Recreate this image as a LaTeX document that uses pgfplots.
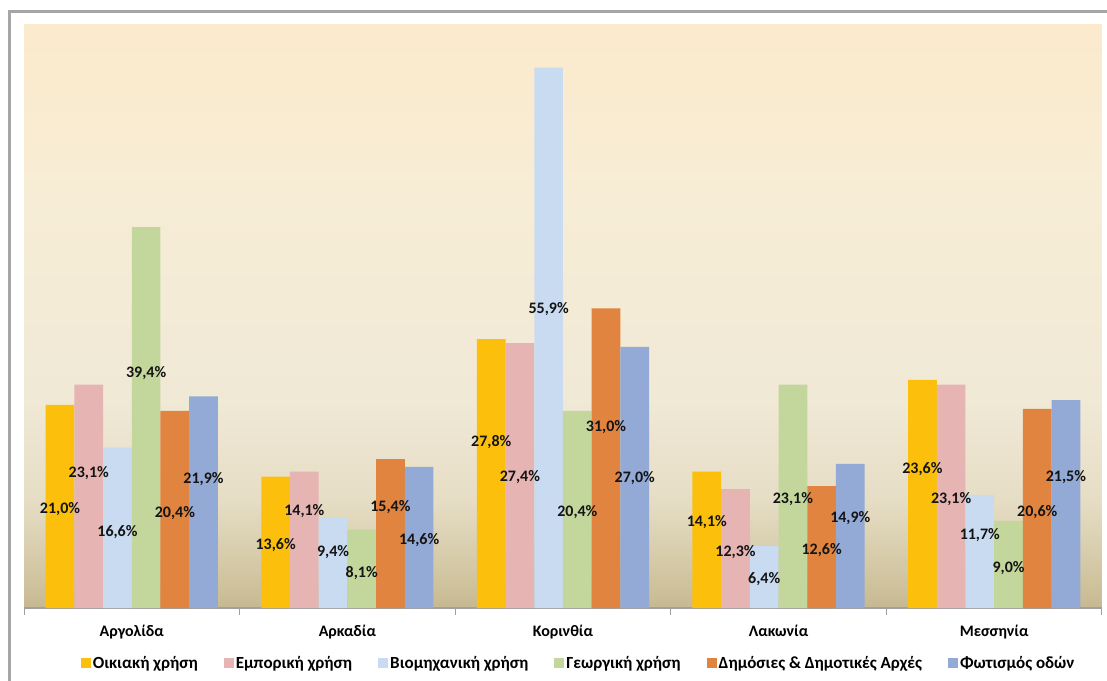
\documentclass[border=0pt]{standalone}
\usepackage{fontspec}
\setmainfont{Carlito}
\usepackage{pgfplots}
\pgfplotsset{compat=1.18}
\usepackage{pgfplotstable}

\definecolor{cA}{HTML}{FCC00C}
\definecolor{cB}{HTML}{E6B4B2}
\definecolor{cC}{HTML}{C8DBF1}
\definecolor{cD}{HTML}{C3D69B}
\definecolor{cE}{HTML}{E0843F}
\definecolor{cF}{HTML}{93AAD6}
\definecolor{frame}{HTML}{A6A6A8}
\definecolor{axisgray}{HTML}{A0A0A0}
\definecolor{lblc}{HTML}{141414}
\definecolor{bgB}{HTML}{C6B891}
\definecolor{bg1}{HTML}{D0C49F}
\definecolor{bg2}{HTML}{E6DDC5}
\definecolor{bg3}{HTML}{F0E9D6}
\definecolor{bg4}{HTML}{F7EDD6}
\definecolor{bgT}{HTML}{FBEACC}

\pgfdeclareverticalshading{bgshade}{100bp}{color(0bp)=(bgB); color(25bp)=(bgB); color(27.4bp)=(bg1); color(34.3bp)=(bg2); color(42.8bp)=(bg3); color(60bp)=(bg4); color(75bp)=(bgT); color(100bp)=(bgT)}

\pgfplotstableread{
x v1 v2 v3 v4 v5 v6 l1 l2 l3 l4 l5 l6
0 21.0 23.1 16.6 39.4 20.4 21.9 10.2 14.0 7.9 24.3 9.8 13.3
1 13.6 14.1 9.4 8.1 15.4 14.6 6.5 10.0 5.8 3.6 10.4 7.0
2 27.8 27.4 55.9 20.4 31.0 27.0 17.2 13.5 30.9 9.9 18.7 13.4
3 14.1 12.3 6.4 23.1 12.6 14.9 8.9 5.8 3.0 11.3 6.0 9.3
4 23.6 23.1 11.7 9.0 20.6 21.5 14.4 11.3 7.5 4.1 9.9 13.5
}\data

\begin{document}
\begin{tikzpicture}[x=1pt,y=1pt]
\useasboundingbox (0,0) rectangle (1107,680);
\fill[white] (0,0) rectangle (1107,680);
\draw[line width=3pt, color=frame] (9.5,-5) -- (9.5,668.5) -- (1112,668.5);
\begin{axis}[
  at={(24pt,72pt)}, anchor=south west, scale only axis,
  width=1078pt, height=583pt,
  xmin=-0.5, xmax=4.5, ymin=0, ymax=60.3,
  axis background/.style={shade, shading=bgshade},
  axis x line*=bottom, axis y line=none,
  x axis line style={draw=axisgray, line width=1.2pt, -},
  xtick={-0.5,0.5,...,4.5}, xticklabels={},
  tick align=outside, major tick length=7pt,
  xtick style={draw=axisgray, line width=1pt},
  extra x ticks={0,1,2,3,4},
  extra x tick labels={Αργολίδα,Αρκαδία,Κορινθία,Λακωνία,Μεσσηνία},
  extra x tick style={major tick length=0pt, xticklabel style={font=\bfseries\fontsize{16}{16}\selectfont, text=black, yshift=-14pt}},
  legend style={at={(0.5145,-0.094)}, anchor=center, legend columns=6, draw=none, fill=none,
     font=\bfseries\fontsize{17}{17}\selectfont, text=black,
     nodes={font=\bfseries\fontsize{17}{17}\selectfont},
     /tikz/every even column/.append style={column sep=24pt}},
  legend image code/.code={\fill[#1,draw=none] (0pt,-5pt) rectangle (10pt,5pt);},
  nodes near coords style={font=\bfseries\fontsize{16}{16}\selectfont, text=lblc, anchor=center},
  every axis plot/.append style={line width=0pt},
]
\addplot[ybar, bar width=28.7pt, bar shift=-71.75pt, fill=cA, draw=none] table[x=x,y=v1]{\data};
\addplot[ybar, bar width=28.7pt, bar shift=-43.05pt, fill=cB, draw=none] table[x=x,y=v2]{\data};
\addplot[ybar, bar width=28.7pt, bar shift=-14.35pt, fill=cC, draw=none] table[x=x,y=v3]{\data};
\addplot[ybar, bar width=28.7pt, bar shift=14.35pt, fill=cD, draw=none] table[x=x,y=v4]{\data};
\addplot[ybar, bar width=28.7pt, bar shift=43.05pt, fill=cE, draw=none] table[x=x,y=v5]{\data};
\addplot[ybar, bar width=28.7pt, bar shift=71.75pt, fill=cF, draw=none] table[x=x,y=v6]{\data};
\legend{Οικιακή χρήση, Εμπορική χρήση, Βιομηχανική χρήση, Γεωργική χρήση, Δημόσιες \& Δημοτικές Αρχές, Φωτισμός οδών}
\pgfplotsinvokeforeach{1,...,6}{
\addplot[draw=none, mark=none, forget plot, point meta=explicit,
  nodes near coords={\pgfmathprintnumber[fixed,fixed zerofill,precision=1,use comma,assume math mode=true]{\pgfplotspointmeta}\%}]
  table[x expr={\thisrow{x}+(#1-3.5)*0.13312}, y=l#1, meta=v#1]{\data};
}
\end{axis}
\end{tikzpicture}
\end{document}
